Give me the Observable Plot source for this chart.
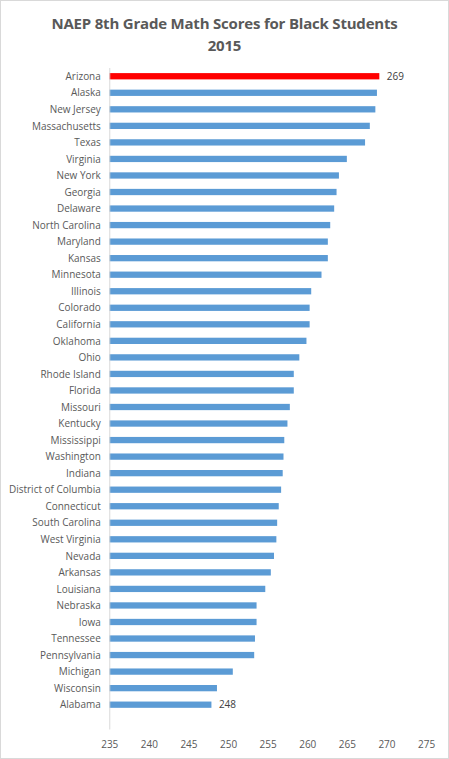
<!DOCTYPE html>
<html>
<head>
<meta charset="utf-8">
<script src="https://cdn.jsdelivr.net/npm/d3@7"></script>
<script src="https://cdn.jsdelivr.net/npm/@observablehq/plot@0.6"></script>
<style>
  html, body { margin: 0; padding: 0; background: #fff; }
  #frame { width: 449px; height: 759px; box-sizing: border-box; border: 1px solid #d9d9d9; position: relative; overflow: hidden; }
  #title { position: absolute; top: 11px; left: 0; width: 447px; text-align: center; font-family: "Open Sans", sans-serif; font-weight: 700; font-size: 15px; line-height: 22px; color: #595959; letter-spacing: -0.2px; }
  #chart { position: absolute; top: 57px; left: -1px; }
</style>
</head>
<body>
<div id="frame">
  <div id="title">NAEP 8th Grade Math Scores for Black Students<br>2015</div>
  <div id="chart"></div>
</div>
<script>
const states = ["Arizona","Alaska","New Jersey","Massachusetts","Texas","Virginia","New York","Georgia","Delaware","North Carolina","Maryland","Kansas","Minnesota","Illinois","Colorado","California","Oklahoma","Ohio","Rhode Island","Florida","Missouri","Kentucky","Mississippi","Washington","Indiana","District of Columbia","Connecticut","South Carolina","West Virginia","Nevada","Arkansas","Louisiana","Nebraska","Iowa","Tennessee","Pennsylvania","Michigan","Wisconsin","Alabama"];
const scores = [269.1,268.8,268.6,267.9,267.3,265.0,264.0,263.7,263.4,262.9,262.6,262.6,261.8,260.5,260.3,260.3,259.9,259.0,258.3,258.3,257.8,257.5,257.1,257.0,256.9,256.7,256.4,256.2,256.1,255.8,255.4,254.7,253.6,253.6,253.4,253.3,250.6,248.6,247.9];
const xTicks = [235,240,245,250,255,260,265,270,275];
const highlighted = ["Arizona"];
const labeled = ["Arizona","Alabama"];

const data = states.map((s, i) => ({state: s, score: scores[i]}));
const yDomain = states.concat([""]);
const xMin = xTicks[0], xMax = xTicks[xTicks.length - 1];

const chart = Plot.plot({
  width: 449,
  height: 702,
  marginTop: 10,
  marginBottom: 29,
  marginLeft: 109.5,
  marginRight: 22,
  style: {fontFamily: "Open Sans, sans-serif", fontSize: "10px", color: "#595959", background: "transparent"},
  x: {domain: [xMin, xMax], ticks: xTicks, tickSize: 0, tickPadding: 11, label: null},
  y: {domain: yDomain, paddingInner: 0.62, paddingOuter: 0.31, round: false, tickSize: 0, tickPadding: 9, label: null},
  marks: [
    Plot.barX(data, {
      x1: xMin,
      x2: "score",
      y: "state",
      fill: d => highlighted.includes(d.state) ? "#ff0000" : "#5b9bd5"
    }),
    Plot.ruleX([xMin], {stroke: "#d9d9d9", strokeWidth: 1}),
    Plot.text(data.filter(d => labeled.includes(d.state)), {
      x: "score",
      y: "state",
      text: d => String(Math.round(d.score)),
      textAnchor: "start",
      dx: 7,
      fill: "#404040",
      fontSize: 10
    })
  ]
});
document.getElementById("chart").appendChild(chart);
</script>
</body>
</html>
